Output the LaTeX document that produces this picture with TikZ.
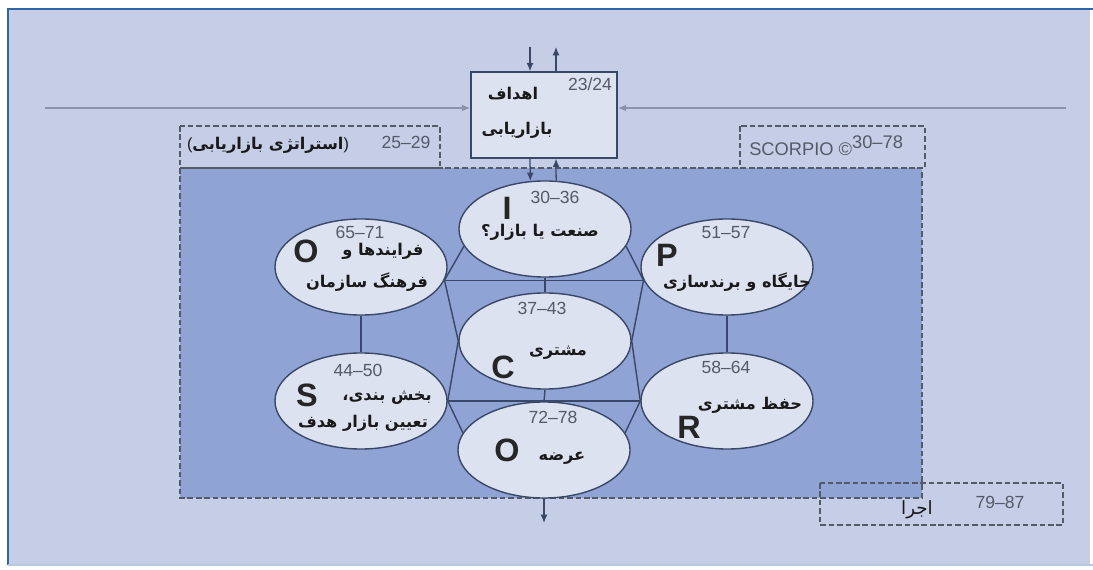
\documentclass[tikz,border=0pt]{standalone}
\usepackage{fontspec}
\usetikzlibrary{shapes.geometric,arrows.meta}
\TeXXeTstate=1
\newfontfamily\arabicfont[Script=Arabic]{DejaVu Sans}
\newfontfamily\arialfont{Liberation Sans}
\definecolor{bgblue}{HTML}{C5CEE6}
\definecolor{areablue}{HTML}{8FA4D4}
\definecolor{cellfill}{HTML}{DCE2F0}
\definecolor{edgecol}{HTML}{3A4868}
\definecolor{numgray}{HTML}{555A68}
\definecolor{axisgray}{HTML}{8A92AC}
\definecolor{framecol}{HTML}{2F66A6}
\tikzset{
  cell/.style={ellipse,draw=edgecol,fill=cellfill,line width=1pt,minimum width=4.3cm,minimum height=2.4cm,inner sep=0pt},
  num/.style={font=\arialfont\fontsize{12.5}{14}\selectfont,text=numgray,inner sep=0pt},
  letter/.style={font=\arialfont\bfseries\fontsize{23}{26}\selectfont,text=black!85,inner sep=0pt},
  fa/.style={font=\arabicfont\bfseries\fontsize{11.5}{13}\selectfont,text=black!90,inner sep=0pt},
  zone/.style={draw=numgray,dash pattern=on 4pt off 2pt,line width=0.9pt},
  link/.style={draw=edgecol,line width=1pt},
}
\begin{document}
\begin{tikzpicture}[x=0.025cm,y=-0.025cm,>={Latex[length=6pt,width=5pt]}]
\useasboundingbox (0,0) rectangle (1093,570);
\fill[white] (0,0) rectangle (1093,570);
\fill[bgblue] (8,9) rectangle (1090,565);
\draw[framecol,line width=1.6pt] (8,565) -- (8,9) -- (1093,9);
\draw[framecol!35,line width=1.2pt] (8,565) -- (1093,565);

% dashed zones
\fill[areablue] (180,168) rectangle (922,498);
\draw[zone] (180,168) rectangle (922,498);
\draw[zone] (180,126) rectangle (440,168);
\draw[zone] (740,126) rectangle (925,168);
\draw[zone] (820,483) rectangle (1063,525);

\node[num] (stratnum) at (406,142) {25–29};
\node[fa] (strat) at (268,145) {{\arialfont\mdseries(}\beginR استراتژی بازاریابی\endR{\arialfont\mdseries)}};
\node[num,anchor=west,font=\arialfont\fontsize{13}{14}\selectfont] (scorpio) at (749,146) {SCORPIO ©\raisebox{0.4em}{30–78}};
\node[num] (execnum) at (1000,502) {79–87};
\node[fa,font=\arabicfont\fontsize{13}{14}\selectfont] (exec) at (917,510) {\beginR اجرا\endR};

% goals box
\node[draw=edgecol,fill=cellfill,line width=1pt,minimum width=3.65cm,minimum height=2.15cm,inner sep=0pt] (goal) at (544,115) {};
\node[num] (goalnum) at (590,84) {23/24};
\node[fa] (goal1) at (513,94) {\beginR اهداف\endR};
\node[fa] (goal2) at (517,130) {\beginR بازاریابی\endR};

% cells
\node[cell] (I) at (545,229) {};
\node[cell] (Ol) at (361,267) {};
\node[cell] (P) at (727,267) {};
\node[cell] (C) at (545,341) {};
\node[cell] (S) at (361,401) {};
\node[cell] (R) at (727,401) {};
\node[cell] (Ob) at (544,450) {};

% links
\draw[link] (Ol.-9) -- (P.189);
\draw[link] (S.east) -- (R.west);
\draw[link] (Ol.south) -- (S.north);
\draw[link] (P.south) -- (R.north);
\draw[link] (I.south) -- (C.north);
\draw[link] (C.south) -- (Ob.north);
\draw[link] (I.192) -- (Ol.-9) -- (C.west) -- (S.east) -- (Ob.168);
\draw[link] (I.-12) -- (P.189) -- (C.east) -- (R.west) -- (Ob.12);

% arrows
\coordinate (axl) at (45,108);
\coordinate (axr) at (1066,108);
\coordinate (tin) at (530,47);
\coordinate (tout) at (556,47);
\coordinate (exit) at (544,523);
\draw[->,axisgray,line width=1.2pt] (axl) -- (axl -| goal.west);
\draw[->,axisgray,line width=1.2pt] (axr) -- (axr -| goal.east);
\draw[->,edgecol,line width=0.9pt] (tin) -- (tin |- goal.north);
\draw[->,edgecol,line width=0.9pt] (goal.north -| tout) -- (tout);
\draw[->,edgecol,line width=0.9pt] (goal.south -| tin) -- (I.107);
\draw[->,edgecol,line width=0.9pt] (I.77) -- (goal.south -| tout);
\draw[->,edgecol,line width=0.9pt] (Ob.south) -- (exit);

% cell texts
\node[num] (Inum) at (555,197) {30–36};
\node[letter] (Ilet) at (507,208) {I};
\node[fa] (Itext) at (540,232) {\beginR صنعت یا بازار؟\endR};

\node[num] (Olnum) at (360,232) {65–71};
\node[letter] (Ollet) at (306,251) {O};
\node[fa] (Oltext1) at (383,251) {\beginR فرایندها و\endR};
\node[fa] (Oltext2) at (367,282) {\beginR فرهنگ سازمان\endR};

\node[num] (Pnum) at (726,233) {51–57};
\node[letter] (Plet) at (667,255) {P};
\node[fa] (Ptext) at (737,282) {\beginR جایگاه و برندسازی\endR};

\node[num] (Cnum) at (542,308) {37–43};
\node[letter] (Clet) at (503,367) {C};
\node[fa] (Ctext) at (558,353) {\beginR مشتری\endR};

\node[num] (Snum) at (358,370) {44–50};
\node[letter] (Slet) at (307,395) {S};
\node[fa] (Stext1) at (387,398) {\beginR بخش بندی،\endR};
\node[fa] (Stext2) at (363,423) {\beginR تعیین بازار هدف\endR};

\node[num] (Rnum) at (726,367) {58–64};
\node[letter] (Rlet) at (689,427) {R};
\node[fa] (Rtext) at (750,405) {\beginR حفظ مشتری\endR};

\node[num] (Obnum) at (553,417) {72–78};
\node[letter] (Oblet) at (507,450) {O};
\node[fa] (Obtext) at (562,458) {\beginR عرضه\endR};
\end{tikzpicture}
\end{document}
